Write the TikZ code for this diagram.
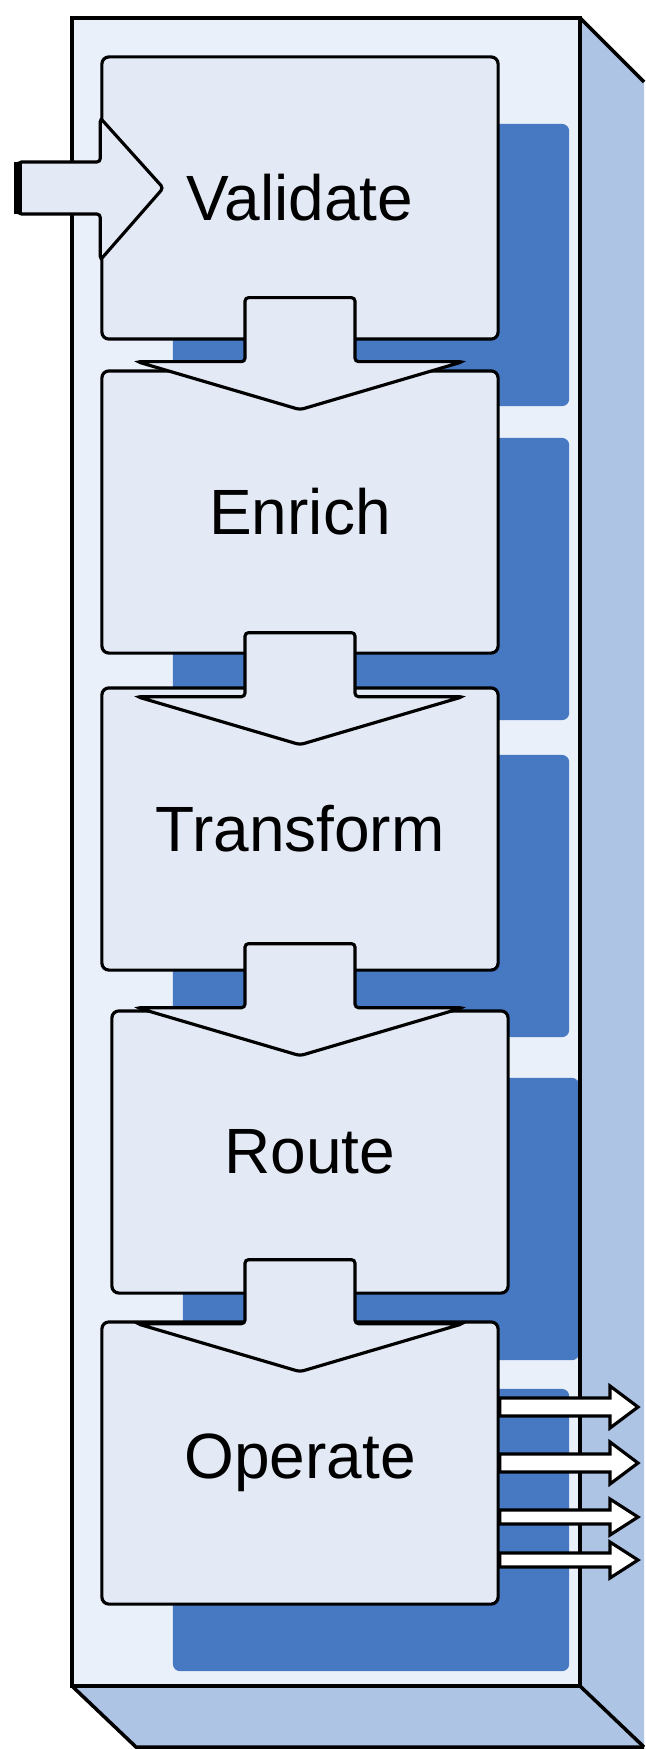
\documentclass[tikz,border=0pt]{standalone}
\usepackage{fontspec}
\setmainfont{Liberation Sans}
\usetikzlibrary{calc,shadows}
\definecolor{framefill}{RGB}{234,240,249}
\definecolor{stagefill}{RGB}{228,234,245}
\definecolor{sidefill}{RGB}{174,196,228}
\definecolor{shadowblue}{RGB}{71,120,194}
\begin{document}
\begin{tikzpicture}[x=0.01cm,y=-0.01cm,
  stagebox/.style={draw=black, line width=0.9pt, fill=stagefill, rounded corners=2pt,
    minimum width=3.96cm, minimum height=2.82cm, inner sep=0pt,
    font=\fontsize{18.2}{22}\selectfont,
    drop shadow={shadow xshift=0.71cm, shadow yshift=-0.67cm, fill=shadowblue, opacity=1}},
  flowbox/.style={draw=black, line width=0.9pt, fill=stagefill, rounded corners=1pt},
  outbox/.style={draw=black, line width=0.9pt, fill=white}]
    \newcommand{\flowarrow}[2]{
        \draw[flowbox] ($(axis |- #1.south)+(-55,-#2)$) -- ++(110,0) -- ++(0,64) -- ++(108,0)
            -- ++(-163,48) -- ++(-163,-48) -- ++(108,0) -- cycle;
    }
    \newcommand{\outarrow}[3]{
        \draw[outbox] ($(#1 -| op.east)+(0,-#2)$) -- ($(#1)+(-28,-#2)$) -- ($(#1)+(-28,-#3)$)
            -- (#1) -- ($(#1)+(-28,#3)$) -- ($(#1)+(-28,#2)$) -- ($(#1 -| op.east)+(0,#2)$) -- cycle;
    }
\useasboundingbox (0,0) rectangle (645,1749);

\fill[sidefill] (580,18) -- (644,82) -- (644,1747) -- (136,1747) -- (72,1686) -- (580,1686) -- cycle;
\draw[line width=1pt] (580,18) -- (644,82);
\draw[line width=1pt] (72,1686) -- (136,1747) -- (644,1747);
\draw[line width=1pt] (580,1686) -- (644,1747);
\fill[framefill] (72,18) rectangle (580,1686);

\coordinate (axis) at (300,0);
\node[stagebox] (val) at (300,198) {Validate};
\node[stagebox] (enr) at (300,512) {Enrich};
\node[stagebox] (trf) at (300,829) {Transform};
\node[stagebox] (rte) at (310,1152) {Route};
\node[stagebox] (op) at (300,1463) {Operate};

\draw[line width=1.3pt] (72,18) rectangle (580,1686);

\flowarrow{val}{43}
\flowarrow{enr}{22}
\flowarrow{trf}{28}
\flowarrow{rte}{35}

\coordinate (in) at (18,188);
\draw[flowbox] ($(in)+(0,-26)$) -- ($(in -| val.west)+(0,-26)$) -- ++(0,-44) -- ++(63,70)
    -- ++(-63,72) -- ++(0,-46) -- ($(in)+(0,26)$) -- cycle;
\draw[line width=2pt] ($(in)+(0,-26)$) -- ($(in)+(0,26)$);

\coordinate (out1) at (638,1407);
\coordinate (out2) at (638,1463);
\coordinate (out3) at (638,1517);
\coordinate (out4) at (638,1560);
\outarrow{out1}{9}{21}
\outarrow{out2}{9}{21}
\outarrow{out3}{7}{18}
\outarrow{out4}{7}{18}

\end{tikzpicture}
\end{document}
